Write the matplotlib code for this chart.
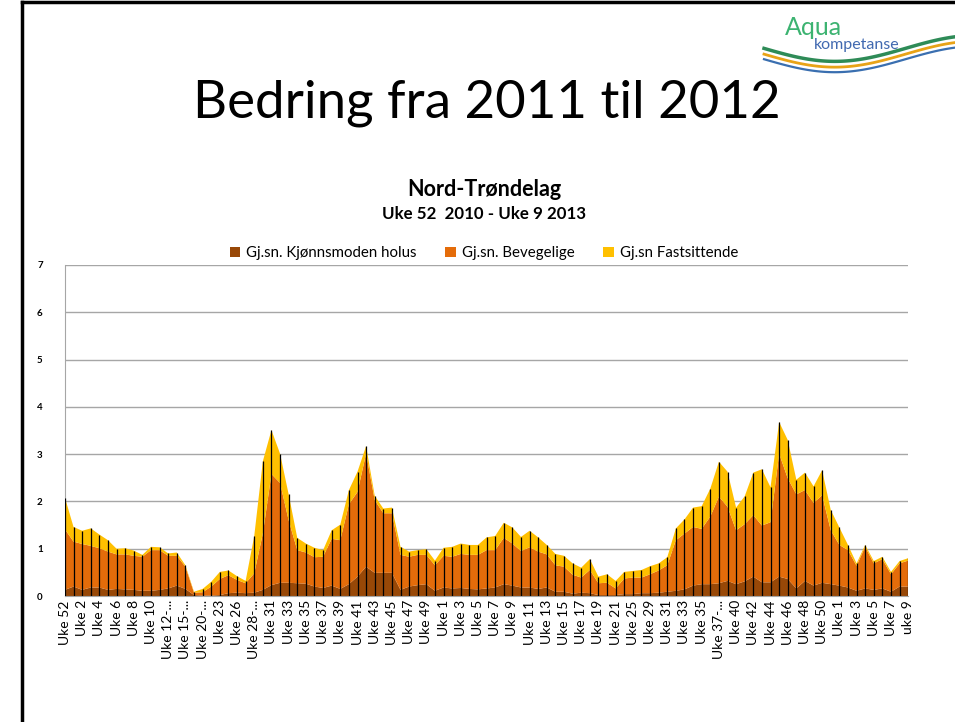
import matplotlib
matplotlib.use('Agg')
import matplotlib.pyplot as plt
import numpy as np

# Weekly averages, Nord-Trøndelag, Uke 52 2010 - Uke 9 2013
weeks = ['Uke 52', 'Uke 1', 'Uke 2', 'Uke 3', 'Uke 4', 'Uke 5', 'Uke 6', 'Uke 7', 'Uke 8', 'Uke 9',
         'Uke 10', 'Uke 11', 'Uke 12-...', 'Uke 14', 'Uke 15-...', 'Uke 16-19', 'Uke 20-...', 'Uke 22',
         'Uke 23', 'Uke 24-25', 'Uke 26', 'Uke 27', 'Uke 28-...', 'Uke 30', 'Uke 31', 'Uke 32',
         'Uke 33', 'Uke 34', 'Uke 35', 'Uke 36', 'Uke 37', 'Uke 38', 'Uke 39', 'Uke 40', 'Uke 41',
         'Uke 42', 'Uke 43', 'Uke 44', 'Uke 45', 'Uke 46', 'Uke 47', 'Uke 48', 'Uke 49', 'Uke 51',
         'Uke 1', 'Uke 2', 'Uke 3', 'Uke 4', 'Uke 5', 'Uke 6', 'Uke 7', 'Uke 8', 'Uke 9', 'Uke 10',
         'Uke 11', 'Uke 12', 'Uke 13', 'Uke 14', 'Uke 15', 'Uke 16', 'Uke 17', 'Uke 18', 'Uke 19',
         'Uke 20', 'Uke 21', 'Uke 23', 'Uke 25', 'Uke 27', 'Uke 29', 'Uke 30', 'Uke 31', 'Uke 32',
         'Uke 33', 'Uke 34', 'Uke 35', 'Uke 36', 'Uke 37-...', 'Uke 39', 'Uke 40', 'Uke 41', 'Uke 42',
         'Uke 43', 'Uke 44', 'Uke 45', 'Uke 46', 'Uke 47', 'Uke 48', 'Uke 49', 'Uke 50', 'Uke 51',
         'Uke 1', 'Uke 2', 'Uke 3', 'Uke 4', 'Uke 5', 'Uke 6', 'Uke 7', 'Uke 8', 'uke 9']

holus = [0.13, 0.20, 0.13, 0.18, 0.18, 0.13, 0.15, 0.14, 0.13, 0.11,
         0.11, 0.13, 0.16, 0.22, 0.15, 0.02, 0.01, 0.01, 0.02, 0.06,
         0.07, 0.06, 0.07, 0.13, 0.23, 0.28, 0.28, 0.27, 0.26, 0.20,
         0.17, 0.22, 0.15, 0.25, 0.41, 0.62, 0.49, 0.49, 0.49, 0.13,
         0.20, 0.23, 0.25, 0.11, 0.18, 0.16, 0.17, 0.15, 0.14, 0.16,
         0.18, 0.25, 0.22, 0.18, 0.18, 0.15, 0.18, 0.09, 0.09, 0.05,
         0.07, 0.06, 0.02, 0.02, 0.02, 0.04, 0.04, 0.06, 0.06, 0.07,
         0.09, 0.11, 0.14, 0.22, 0.25, 0.25, 0.27, 0.32, 0.25, 0.31,
         0.41, 0.29, 0.29, 0.41, 0.36, 0.16, 0.32, 0.22, 0.28, 0.25,
         0.22, 0.18, 0.11, 0.16, 0.13, 0.16, 0.09, 0.20, 0.20]

bevegelige = [1.28, 0.95, 0.97, 0.88, 0.83, 0.81, 0.73, 0.74, 0.72, 0.72,
              0.86, 0.84, 0.69, 0.63, 0.47, 0.05, 0.07, 0.19, 0.34, 0.38,
              0.27, 0.21, 0.41, 1.19, 2.35, 2.11, 1.32, 0.70, 0.66, 0.62,
              0.66, 0.99, 1.03, 1.69, 1.79, 2.39, 1.54, 1.26, 1.26, 0.74,
              0.63, 0.64, 0.62, 0.54, 0.67, 0.67, 0.72, 0.72, 0.73, 0.81,
              0.79, 0.98, 0.89, 0.77, 0.85, 0.79, 0.70, 0.56, 0.53, 0.40,
              0.32, 0.49, 0.25, 0.26, 0.14, 0.33, 0.35, 0.33, 0.40, 0.47,
              0.56, 1.07, 1.18, 1.24, 1.17, 1.43, 1.83, 1.57, 1.14, 1.21,
              1.30, 1.20, 1.27, 2.60, 2.13, 1.99, 1.92, 1.75, 1.85, 1.14,
              0.86, 0.79, 0.53, 0.88, 0.56, 0.62, 0.37, 0.49, 0.55]

fastsittende = [0.67, 0.31, 0.28, 0.37, 0.29, 0.24, 0.12, 0.13, 0.11, 0.04,
                0.07, 0.06, 0.05, 0.07, 0.03, 0.02, 0.07, 0.10, 0.15, 0.10,
                0.08, 0.05, 0.79, 1.53, 0.93, 0.62, 0.55, 0.26, 0.19, 0.20,
                0.14, 0.18, 0.33, 0.30, 0.43, 0.16, 0.09, 0.10, 0.12, 0.17,
                0.11, 0.10, 0.12, 0.10, 0.17, 0.21, 0.22, 0.21, 0.21, 0.27,
                0.30, 0.32, 0.34, 0.30, 0.35, 0.30, 0.20, 0.24, 0.23, 0.24,
                0.21, 0.23, 0.14, 0.18, 0.16, 0.14, 0.14, 0.16, 0.17, 0.15,
                0.17, 0.25, 0.30, 0.41, 0.48, 0.59, 0.74, 0.74, 0.48, 0.59,
                0.90, 1.19, 0.74, 0.67, 0.81, 0.31, 0.37, 0.35, 0.53, 0.43,
                0.37, 0.11, 0.05, 0.04, 0.05, 0.05, 0.05, 0.05, 0.05]

series_names = ['Gj.sn. Kjønnsmoden holus', 'Gj.sn. Bevegelige', 'Gj.sn Fastsittende']
series_colors = ['#984807', '#E46C0A', '#FFC000']

plt.rcParams['font.family'] = ['Lato', 'DejaVu Sans']

fig = plt.figure(figsize=(9.55, 7.22), dpi=100)

# slide frame
fig.add_artist(plt.Line2D([0.023, 1.0], [0.997, 0.997], color='black', lw=2.5))
fig.add_artist(plt.Line2D([0.023, 0.023], [0.0, 0.997], color='black', lw=2.5))

# logo (rough)
t = np.linspace(0.800, 1.0, 120)
wave = 0.925 - 0.018 * np.sin((t - 0.80) / 0.2 * np.pi * 1.35)
for off, col, lw in [(0.008, '#2E8B57', 2.5), (0.0, '#E8A317', 2.0), (-0.007, '#3A6FB0', 1.6)]:
    fig.add_artist(plt.Line2D(t, wave + off, color=col, lw=lw))
fig.text(0.822, 0.962, 'Aqua', fontsize=18, color='#3CB371', ha='left', va='center')
fig.text(0.852, 0.937, 'kompetanse', fontsize=11.5, color='#4169B0', ha='left', va='center')

fig.text(0.51, 0.857, 'Bedring fra 2011 til 2012', fontsize=38, ha='center', va='center')

ax = fig.add_axes([0.068, 0.1745, 0.883, 0.4585])
x = np.arange(len(weeks))
ax.stackplot(x, holus, bevegelige, fastsittende, labels=series_names,
             colors=series_colors, linewidth=0)
total = np.array(holus) + np.array(bevegelige) + np.array(fastsittende)
ax.vlines(x, 0, total, color='black', linewidth=0.9, zorder=3)

ax.set_xlim(0, len(weeks) - 1)
ax.set_ylim(0, 7)
ax.set_yticks(range(0, 8))
ax.set_yticklabels([str(v) for v in range(0, 8)], fontsize=7, fontweight='bold')
ax.set_xticks(x[::2])
ax.set_xticklabels(weeks[::2], rotation=90, fontsize=10)
ax.tick_params(axis='y', length=0, pad=16)
ax.tick_params(axis='x', length=0, pad=3)
ax.grid(axis='y', color='#A6A6A6', linewidth=1)
ax.set_axisbelow(True)
for s in ['top', 'right']:
    ax.spines[s].set_visible(False)
ax.spines['left'].set_color('#A6A6A6')
ax.spines['bottom'].set_color('#A6A6A6')

ax.legend(loc='lower center', bbox_to_anchor=(0.497, 1.005), ncol=3, frameon=False,
          fontsize=10.8, handlelength=0.7, handleheight=0.7, columnspacing=1.9,
          handletextpad=0.4, borderaxespad=0, borderpad=0.2)

fig.text(0.507, 0.738, 'Nord-Trøndelag', fontsize=15.5, fontweight='bold', ha='center', va='center')
fig.text(0.507, 0.703, 'Uke 52  2010 - Uke 9 2013', fontsize=12.2, fontweight='bold', ha='center', va='center')

fig.savefig('out.png', dpi=100)
